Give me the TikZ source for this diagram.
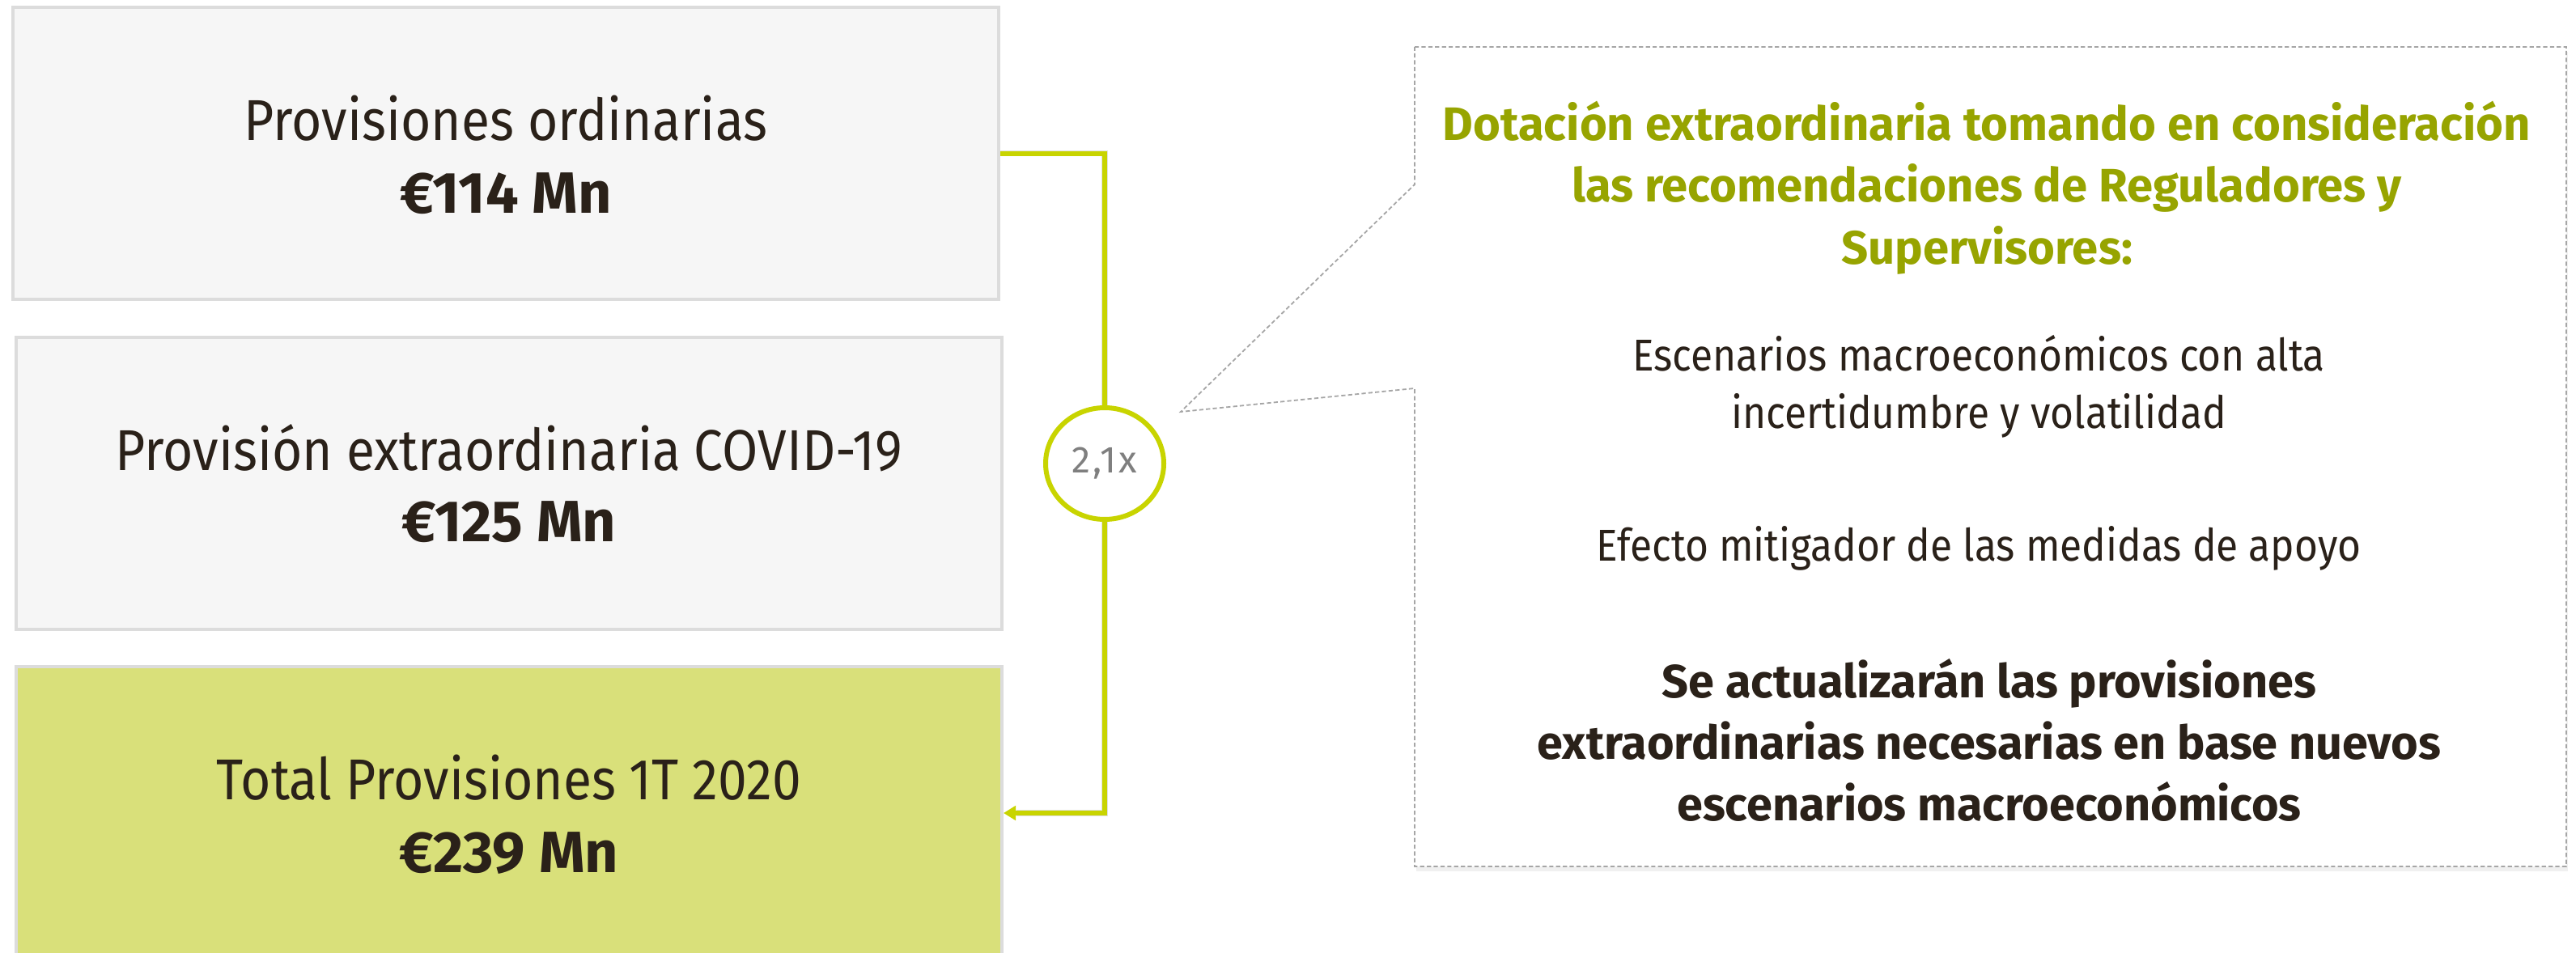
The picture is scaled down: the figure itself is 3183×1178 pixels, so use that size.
\documentclass[tikz,border=0pt]{standalone}
\usepackage{fontspec}
\setmainfont{Fira Sans}[UprightFeatures={FakeStretch=0.90}]
\newfontfamily\ratiofont{Fira Sans}[LetterSpace=6]
\usetikzlibrary{arrows.meta,shapes.geometric}
\definecolor{lgreen}{HTML}{C8D400}
\definecolor{tgreen}{HTML}{97A400}
\definecolor{boxfill}{HTML}{F6F6F6}
\definecolor{boxline}{HTML}{DCDCDC}
\definecolor{totfill}{HTML}{D9E07A}
\definecolor{ink}{HTML}{2A2119}
\definecolor{dashc}{HTML}{A6A6A6}
\definecolor{ratiotext}{HTML}{7F7F7F}
\tikzset{
  x=0.25pt, y=-0.25pt,
  box/.style={draw=boxline, line width=1pt, fill=boxfill, inner sep=0pt, minimum width=304.5pt, minimum height=90.25pt},
  totbox/.style={box, fill=totfill},
  lbl/.style={anchor=base, inner sep=0pt, text=ink, font=\fontsize{17.8pt}{22pt}\selectfont},
  val/.style={lbl, font=\fontsize{18pt}{22pt}\selectfont\bfseries},
  conn/.style={draw=lgreen, line width=1.5pt},
  connshadow/.style={draw=black, opacity=0.12, line width=1.8pt},
  ratio/.style={ellipse, draw=lgreen, line width=1.5pt, fill=white, minimum width=36.5pt, minimum height=34.5pt, inner sep=0pt, text=ratiotext, font=\fontsize{11.6pt}{13pt}\ratiofont},
  ttl/.style={anchor=base, inner sep=0pt, text=tgreen, font=\fontsize{14.5pt}{18pt}\selectfont\bfseries},
  bod/.style={anchor=base, inner sep=0pt, text=ink, font=\fontsize{13.8pt}{16pt}\selectfont},
  con/.style={anchor=base, inner sep=0pt, text=ink, font=\fontsize{14.4pt}{18pt}\selectfont\bfseries},
  callout/.style={draw=dashc, line width=0.45pt, dash pattern=on 1.3pt off 0.8pt, fill=white}
}
\begin{document}
\begin{tikzpicture}
\useasboundingbox (0,0) rectangle (3183,1178);
\clip (0,0) rectangle (3183,1178);
% boxes
\node[box] (b1) at (625,189.5) {};
\node[box] (b2) at (629,597.5) {};
\node[totbox, minimum height=90.5pt] (b3) at (629,1005) {};
\node[lbl] (b1a) at (625,173) {Provisiones ordinarias};
\node[val] (b1b) at (625,263) {€114 Mn};
\node[lbl] (b2a) at (629,581) {Provisión extraordinaria COVID-19};
\node[val] (b2b) at (629,669) {€125 Mn};
\node[lbl] (b3a) at (629,988) {Total Provisiones 1T 2020};
\node[val] (b3b) at (629,1078) {€239 Mn};
% ratio circle
\node[ratio] (r) at (1365,573) {\raisebox{0pt}{2,1x}};
\coordinate (c1) at (1365,189.5);
\coordinate (c2) at (1365,1005);
% connector shadows
\begin{scope}[xshift=0.7pt, yshift=-1pt]
\draw[connshadow] (b1.east) -- (c1) -- (r.north);
\draw[connshadow] (r.south) -- (c2) -- ([xshift=4pt]b3.east);
\end{scope}
\draw[conn, line join=miter] (b1.east) -- (c1) -- (r.north);
\draw[conn, line join=miter, -{Triangle[length=3.8pt, width=4.4pt]}] (r.south) -- (c2) -- (b3.east);
% callout
\coordinate (k1) at (1748,58);
\coordinate (k2) at (3171,58);
\coordinate (k3) at (3171,1071);
\coordinate (k4) at (1748,1071);
\coordinate (k5) at (1748,480);
\coordinate (tip) at (1459,509);
\coordinate (k6) at (1748,228);
\fill[black, opacity=0.06] ([shift={(2,6)}]k1) -- ([shift={(2,6)}]k2) -- ([shift={(2,6)}]k3) -- ([shift={(2,6)}]k4) -- cycle;
\path[callout] (k1) -- (k2) -- (k3) -- (k4) -- (k5) -- (tip) -- (k6) -- cycle;
\node[ttl] (t1) at (2455,173) {Dotación extraordinaria tomando en consideración};
\node[ttl] (t2) at (2455,249) {las recomendaciones de Reguladores y};
\node[ttl] (t3) at (2455,326) {Supervisores:};
\node[bod] (e1) at (2445,458) {Escenarios macroeconómicos con alta};
\node[bod] (e2) at (2445,529) {incertidumbre y volatilidad};
\node[bod] (e3) at (2445,693) {Efecto mitigador de las medidas de apoyo};
\node[con] (s1) at (2458,862) {Se actualizarán las provisiones};
\node[con] (s2) at (2458,938) {extraordinarias necesarias en base nuevos};
\node[con] (s3) at (2458,1014) {escenarios macroeconómicos};
\end{tikzpicture}
\end{document}
